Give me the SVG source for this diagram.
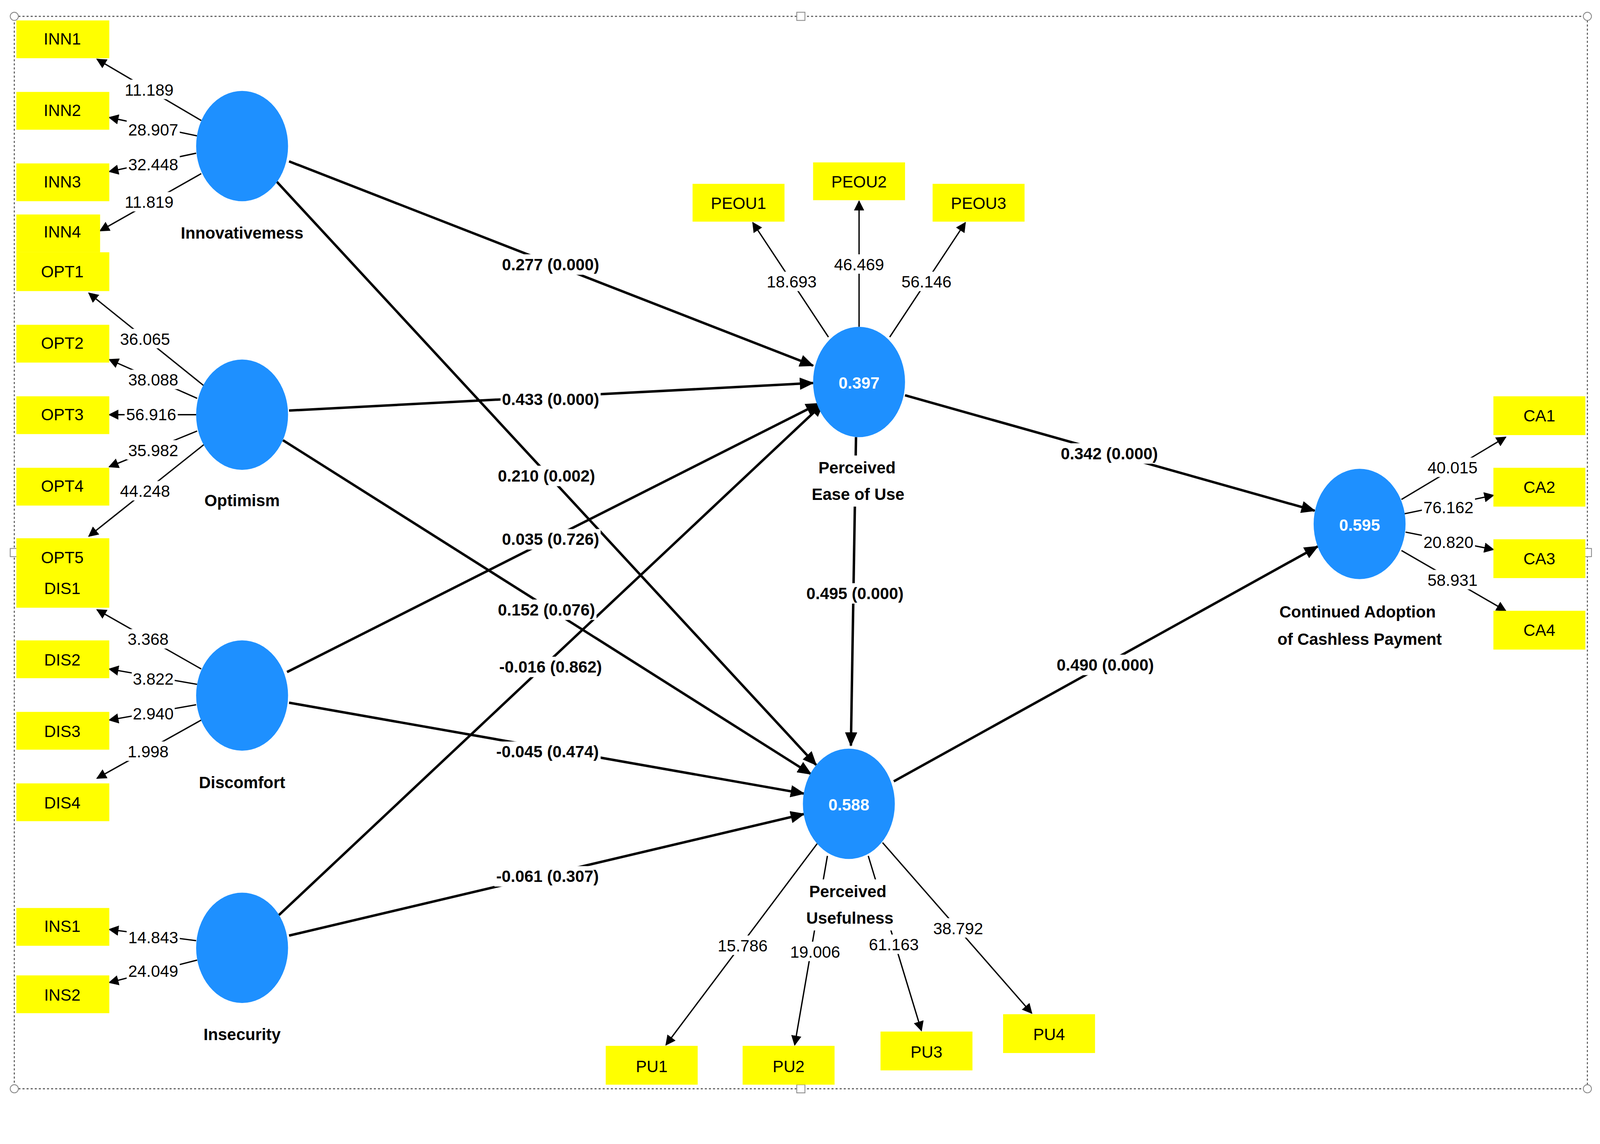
<svg xmlns="http://www.w3.org/2000/svg" width="4236" height="2929" viewBox="0 0 4236 2929">
<style>
.bx{fill:#FFFF00}
.lv{fill:#1E90FF}
.t{font-family:"Liberation Sans",Arial,sans-serif;font-size:16px;fill:#000;text-anchor:middle;dominant-baseline:central}
.b{font-weight:bold}
.w{fill:#fff;font-weight:bold}
.ld{stroke:#000;stroke-width:1.3;fill:none;marker-end:url(#a)}
.pt{stroke:#000;stroke-width:2.4;fill:none;marker-end:url(#a2)}
.lb{fill:#fff}
</style>
<defs>
<marker id="a" markerWidth="10" markerHeight="10" refX="9" refY="5" orient="auto" markerUnits="userSpaceOnUse"><path d="M0,0 L10,5 L0,10 z" fill="#000"/></marker>
<marker id="a2" markerWidth="14" markerHeight="12" refX="13" refY="6" orient="auto" markerUnits="userSpaceOnUse"><path d="M0,0 L14,6 L0,12 z" fill="#000"/></marker>
</defs>
<rect width="4236" height="2929" fill="#fff"/>
<g transform="scale(2.615)">
<rect x="14" y="16" width="1540" height="1050" fill="none" stroke="#555" stroke-width="1" stroke-dasharray="2,2"/>
<g fill="#fff" stroke="#888" stroke-width="0.8"><circle cx="14" cy="16" r="4"/><circle cx="1554" cy="16" r="4"/><circle cx="14" cy="1066" r="4"/><circle cx="1554" cy="1066" r="4"/><rect x="780" y="12" width="8" height="8"/><rect x="780" y="1062" width="8" height="8"/><rect x="10" y="537" width="8" height="8"/><rect x="1550" y="537" width="8" height="8"/></g>

<g id="connectors">
<g class="ld">
<line x1="197" y1="118" x2="95" y2="58"/><line x1="193" y1="133" x2="107" y2="115"/><line x1="192" y1="150" x2="107" y2="168"/><line x1="197" y1="170" x2="98" y2="226"/>
<line x1="200" y1="378" x2="87" y2="287"/><line x1="193" y1="390" x2="107" y2="352"/><line x1="192" y1="406" x2="107" y2="406"/><line x1="193" y1="422" x2="107" y2="457"/><line x1="200" y1="435" x2="87" y2="525"/>
<line x1="197" y1="655" x2="95" y2="597"/><line x1="193" y1="670" x2="107" y2="655"/><line x1="192" y1="690" x2="107" y2="705"/><line x1="197" y1="705" x2="95" y2="762"/>
<line x1="192" y1="921" x2="107" y2="910"/><line x1="193" y1="940" x2="107" y2="962"/>
<line x1="811" y1="330" x2="737" y2="218"/><line x1="841" y1="320" x2="841" y2="197"/><line x1="871" y1="330" x2="945" y2="218"/>
<line x1="1372" y1="489" x2="1474" y2="428"/><line x1="1375" y1="503" x2="1462" y2="485"/><line x1="1376" y1="521" x2="1462" y2="538"/><line x1="1372" y1="539" x2="1474" y2="598"/>
<line x1="800" y1="826" x2="652" y2="1023"/><line x1="810" y1="838" x2="778" y2="1023"/><line x1="850" y1="838" x2="902" y2="1009"/><line x1="864" y1="825" x2="1010" y2="992"/>
</g>
<g class="pt">
<line x1="283" y1="158" x2="796" y2="358"/><line x1="271" y1="178" x2="799" y2="749"/>
<line x1="283" y1="402" x2="796" y2="375"/><line x1="277" y1="431" x2="794" y2="758"/>
<line x1="281" y1="658" x2="802" y2="395"/><line x1="283" y1="688" x2="787" y2="777"/>
<line x1="273" y1="896" x2="806" y2="395"/><line x1="283" y1="916" x2="787" y2="797"/>
<line x1="886" y1="387" x2="1287" y2="500"/><line x1="838" y1="428" x2="833" y2="730"/><line x1="875" y1="765" x2="1290" y2="535"/>
</g>
<g class="t">
<g class="lb"><rect x="120" y="78" width="52" height="19"/><rect x="124" y="117" width="52" height="19"/><rect x="124" y="151" width="52" height="19"/><rect x="120" y="188" width="52" height="19"/>
<rect x="116" y="322" width="52" height="19"/><rect x="124" y="362" width="52" height="19"/><rect x="122" y="396" width="52" height="19"/><rect x="124" y="431" width="52" height="19"/><rect x="116" y="471" width="52" height="19"/>
<rect x="124" y="616" width="42" height="19"/><rect x="129" y="655" width="42" height="19"/><rect x="129" y="689" width="42" height="19"/><rect x="124" y="726" width="42" height="19"/>
<rect x="124" y="908" width="52" height="19"/><rect x="124" y="941" width="52" height="19"/>
<rect x="749" y="266" width="52" height="19"/><rect x="815" y="249" width="52" height="19"/><rect x="881" y="266" width="52" height="19"/>
<rect x="1396" y="448" width="52" height="19"/><rect x="1392" y="487" width="52" height="19"/><rect x="1392" y="521" width="52" height="19"/><rect x="1396" y="558" width="52" height="19"/>
<rect x="701" y="916" width="52" height="19"/><rect x="772" y="922" width="52" height="19"/><rect x="849" y="915" width="52" height="19"/><rect x="912" y="899" width="52" height="19"/>
<rect x="490" y="249" width="98" height="20"/><rect x="486" y="456" width="98" height="20"/><rect x="490" y="381" width="98" height="20"/><rect x="486" y="587" width="98" height="20"/><rect x="490" y="518" width="98" height="20"/><rect x="484" y="726" width="104" height="20"/><rect x="486" y="643" width="106" height="20"/><rect x="484" y="848" width="104" height="20"/><rect x="1037" y="434" width="98" height="20"/><rect x="788" y="571" width="98" height="20"/><rect x="1033" y="641" width="98" height="20"/></g>
<text x="146" y="88">11.189</text><text x="150" y="127">28.907</text><text x="150" y="161">32.448</text><text x="146" y="198">11.819</text>
<text x="142" y="332">36.065</text><text x="150" y="372">38.088</text><text x="148" y="406">56.916</text><text x="150" y="441">35.982</text><text x="142" y="481">44.248</text>
<text x="145" y="626">3.368</text><text x="150" y="665">3.822</text><text x="150" y="699">2.940</text><text x="145" y="736">1.998</text>
<text x="150" y="918">14.843</text><text x="150" y="951">24.049</text>
<text x="775" y="276">18.693</text><text x="841" y="259">46.469</text><text x="907" y="276">56.146</text>
<text x="1422" y="458">40.015</text><text x="1418" y="497">76.162</text><text x="1418" y="531">20.820</text><text x="1422" y="568">58.931</text>
<text x="727" y="926">15.786</text><text x="798" y="932">19.006</text><text x="875" y="925">61.163</text><text x="938" y="909">38.792</text>
<g class="b"><text x="539" y="259">0.277 (0.000)</text><text x="535" y="466">0.210 (0.002)</text><text x="539" y="391">0.433 (0.000)</text><text x="535" y="597">0.152 (0.076)</text><text x="539" y="528">0.035 (0.726)</text><text x="536" y="736">-0.045 (0.474)</text><text x="539" y="653">-0.016 (0.862)</text><text x="536" y="858">-0.061 (0.307)</text><text x="1086" y="444">0.342 (0.000)</text><text x="837" y="581">0.495 (0.000)</text><text x="1082" y="651">0.490 (0.000)</text></g>
</g>
</g>

<g id="n-inn"><ellipse class="lv" cx="237" cy="143" rx="45" ry="54"/><text class="t b" x="237" y="228">Innovativemess</text></g>
<g id="n-opt"><ellipse class="lv" cx="237" cy="406" rx="45" ry="54"/><text class="t b" x="237" y="490">Optimism</text></g>
<g id="n-dis"><ellipse class="lv" cx="237" cy="681" rx="45" ry="54"/><text class="t b" x="237" y="766">Discomfort</text></g>
<g id="n-ins"><ellipse class="lv" cx="237" cy="928" rx="45" ry="54"/><text class="t b" x="237" y="1013">Insecurity</text></g>
<g id="n-peou"><ellipse class="lv" cx="841" cy="374" rx="45" ry="54"/><text class="t w" x="841" y="375">0.397</text><rect x="792" y="446" width="96" height="50" fill="#fff"/><text class="t b" x="839" y="458">Perceived</text><text class="t b" x="840" y="484">Ease of Use</text></g>
<g id="n-pu"><ellipse class="lv" cx="831" cy="787" rx="45" ry="54"/><text class="t w" x="831" y="788">0.588</text><rect x="786" y="861" width="90" height="50" fill="#fff"/><text class="t b" x="830" y="873">Perceived</text><text class="t b" x="832" y="899">Usefulness</text></g>
<g id="n-ca"><ellipse class="lv" cx="1331" cy="513" rx="45" ry="54"/><text class="t w" x="1331" y="514">0.595</text><text class="t b" x="1329" y="599">Continued Adoption</text><text class="t b" x="1331" y="626">of Cashless Payment</text></g>

<g id="ind" class="t">
<g id="INN1"><rect class="bx" x="16" y="20" width="91" height="37"/><text x="61" y="38">INN1</text></g>
<g id="INN2"><rect class="bx" x="16" y="90" width="91" height="37"/><text x="61" y="108">INN2</text></g>
<g id="INN3"><rect class="bx" x="16" y="160" width="91" height="37"/><text x="61" y="178">INN3</text></g>
<g id="INN4"><rect class="bx" x="16" y="210" width="82" height="37"/><text x="61" y="227">INN4</text></g>
<g id="OPT1"><rect class="bx" x="16" y="247" width="91" height="38"/><text x="61" y="266">OPT1</text></g>
<g id="OPT2"><rect class="bx" x="16" y="318" width="91" height="37"/><text x="61" y="336">OPT2</text></g>
<g id="OPT3"><rect class="bx" x="16" y="388" width="91" height="37"/><text x="61" y="406">OPT3</text></g>
<g id="OPT4"><rect class="bx" x="16" y="458" width="91" height="37"/><text x="61" y="476">OPT4</text></g>
<g id="OPT5"><rect class="bx" x="16" y="527" width="91" height="32"/><text x="61" y="546">OPT5</text></g>
<g id="DIS1"><rect class="bx" x="16" y="558" width="91" height="37"/><text x="61" y="576">DIS1</text></g>
<g id="DIS2"><rect class="bx" x="16" y="627" width="91" height="37"/><text x="61" y="646">DIS2</text></g>
<g id="DIS3"><rect class="bx" x="16" y="697" width="91" height="37"/><text x="61" y="716">DIS3</text></g>
<g id="DIS4"><rect class="bx" x="16" y="767" width="91" height="37"/><text x="61" y="786">DIS4</text></g>
<g id="INS1"><rect class="bx" x="16" y="889" width="91" height="37"/><text x="61" y="907">INS1</text></g>
<g id="INS2"><rect class="bx" x="16" y="955" width="91" height="37"/><text x="61" y="974">INS2</text></g>
<g id="PEOU1"><rect class="bx" x="678" y="180" width="90" height="37"/><text x="723" y="199">PEOU1</text></g>
<g id="PEOU2"><rect class="bx" x="796" y="159" width="90" height="37"/><text x="841" y="178">PEOU2</text></g>
<g id="PEOU3"><rect class="bx" x="913" y="180" width="90" height="37"/><text x="958" y="199">PEOU3</text></g>
<g id="CA1"><rect class="bx" x="1462" y="388" width="90" height="38"/><text x="1507" y="407">CA1</text></g>
<g id="CA2"><rect class="bx" x="1462" y="458" width="90" height="38"/><text x="1507" y="477">CA2</text></g>
<g id="CA3"><rect class="bx" x="1462" y="528" width="90" height="38"/><text x="1507" y="547">CA3</text></g>
<g id="CA4"><rect class="bx" x="1462" y="598" width="90" height="38"/><text x="1507" y="617">CA4</text></g>
<g id="PU1"><rect class="bx" x="593" y="1024" width="90" height="38"/><text x="638" y="1044">PU1</text></g>
<g id="PU2"><rect class="bx" x="727" y="1024" width="90" height="38"/><text x="772" y="1044">PU2</text></g>
<g id="PU3"><rect class="bx" x="862" y="1010" width="90" height="38"/><text x="907" y="1030">PU3</text></g>
<g id="PU4"><rect class="bx" x="982" y="993" width="90" height="38"/><text x="1027" y="1013">PU4</text></g>
</g>
</g>
</svg>
